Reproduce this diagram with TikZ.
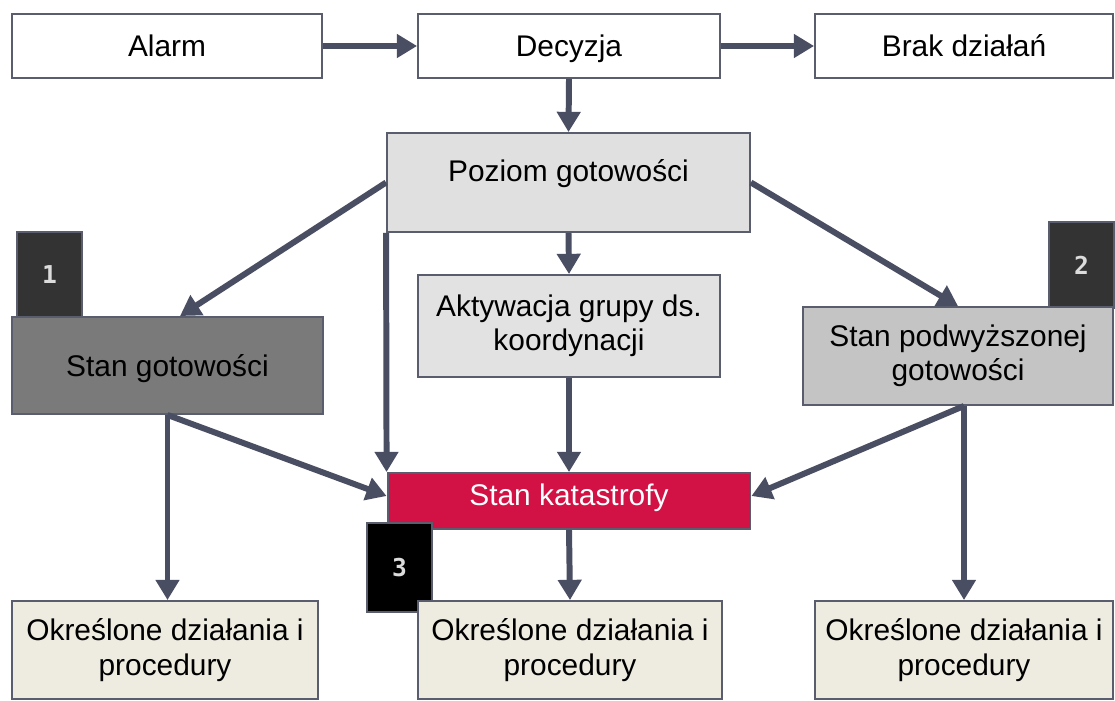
\documentclass[tikz,border=0pt]{standalone}
\usepackage{fontspec}
\setmainfont{Liberation Sans}
\newfontfamily\badgefont{DejaVu Sans Mono}
\usetikzlibrary{arrows.meta}
\newcommand\mystrut{\rule[-5pt]{0pt}{22.2pt}}
\newcommand\pozstrut{\rule[-14pt]{0pt}{26.2pt}}
\newcommand\katstrut{\rule[-6.8pt]{0pt}{19pt}}
\definecolor{bordercol}{HTML}{5A5D6E}
\definecolor{arrowcol}{HTML}{4A4E63}
\definecolor{pozfill}{HTML}{E0E0E0}
\definecolor{aktfill}{HTML}{E2E2E2}
\definecolor{sgfill}{HTML}{7A7A7A}
\definecolor{spfill}{HTML}{C4C4C4}
\definecolor{katfill}{HTML}{D21145}
\definecolor{procfill}{HTML}{EEECE1}
\definecolor{badgefill}{HTML}{333333}
\definecolor{badgetext}{HTML}{DCDCDC}
\tikzset{
  box/.style={draw=bordercol, line width=1.1pt, inner sep=0pt, align=center,
    font=\fontsize{17}{19.5}\selectfont},
  badge/.style={draw=bordercol, line width=0.6pt, fill=badgefill, inner sep=0pt,
    minimum width=1.3cm, minimum height=1.72cm, text=badgetext,
    font=\badgefont\fontsize{14}{16}\selectfont\bfseries},
  arr/.style={draw=arrowcol, line width=3.4pt, -{Triangle[length=11.5pt,width=13pt]}},
}
\begin{document}
\begin{tikzpicture}[x=0.02cm,y=-0.02cm]
\useasboundingbox (0,0) rectangle (1115,700);
\fill[white] (0,0) rectangle (1115,700);
% badges behind boxes
\node[badge] (bd1) at (49.5,275) {1};
\node[badge] (bd2) at (1081.5,265) {2};
% top row
\node[box, fill=white, minimum width=6.2cm, minimum height=1.28cm] (alarm) at (167,46) {\mystrut Alarm};
\node[box, fill=white, minimum width=6.04cm, minimum height=1.28cm] (dec) at (569,46) {\mystrut Decyzja};
\node[box, fill=white, minimum width=5.96cm, minimum height=1.28cm] (brak) at (964,46) {\mystrut Brak działań};
% middle
\node[box, fill=pozfill, minimum width=7.26cm, minimum height=1.98cm] (poz) at (568.5,182.5) {\pozstrut Poziom gotowości};
\node[box, fill=aktfill, minimum width=6.04cm, minimum height=2.04cm] (akt) at (569,326) {Aktywacja grupy ds.\\koordynacji};
\node[box, fill=sgfill, minimum width=6.22cm, minimum height=1.94cm] (sg) at (167.5,365.5) {\mystrut Stan gotowości};
\node[box, fill=spfill, minimum width=6.2cm, minimum height=1.96cm] (sp) at (958,356) {Stan podwyższonej\\gotowości};
\node[box, fill=katfill, text=white, minimum width=7.26cm, minimum height=1.12cm] (kat) at (569,501) {\katstrut Stan katastrofy};
% bottom
\node[box, fill=procfill, minimum width=6.12cm, minimum height=1.96cm] (b1) at (165,650) {Określone działania i\\procedury};
\node[badge, fill=black, minimum height=1.78cm] (bd3) at (399.5,567.5) {3};
\node[box, fill=procfill, minimum width=6.08cm, minimum height=1.96cm] (b2) at (570,650) {Określone działania i\\procedury};
\node[box, fill=procfill, minimum width=5.96cm, minimum height=1.96cm] (b3) at (964,650) {Określone działania i\\procedury};
% arrows
\draw[arr] (alarm.east) -- (dec.west);
\draw[arr] (dec.east) -- (brak.west);
\draw[arr] (dec.south) -- (poz.north);
\draw[arr] (poz.south) -- (akt.north);
\draw[arr] (poz.west) -- ([xshift=0.25cm]sg.north);
\draw[arr] (poz.east) -- (sp.north);
\draw[arr] (poz.south west) -- (kat.north west);
\draw[arr] (akt.south) -- (kat.north);
\draw[arr] (sg.south) -- ([yshift=0.1cm]kat.west);
\draw[arr] (sg.south) -- (sg.south |- b1.north);
\draw[arr] ([xshift=0.12cm]sp.south) -- ([yshift=0.1cm]kat.east);
\draw[arr] ([xshift=0.12cm]sp.south) -- ([xshift=0.12cm]sp.south |- b3.north);
\draw[arr] (kat.south) -- (b2.north);
\end{tikzpicture}
\end{document}
